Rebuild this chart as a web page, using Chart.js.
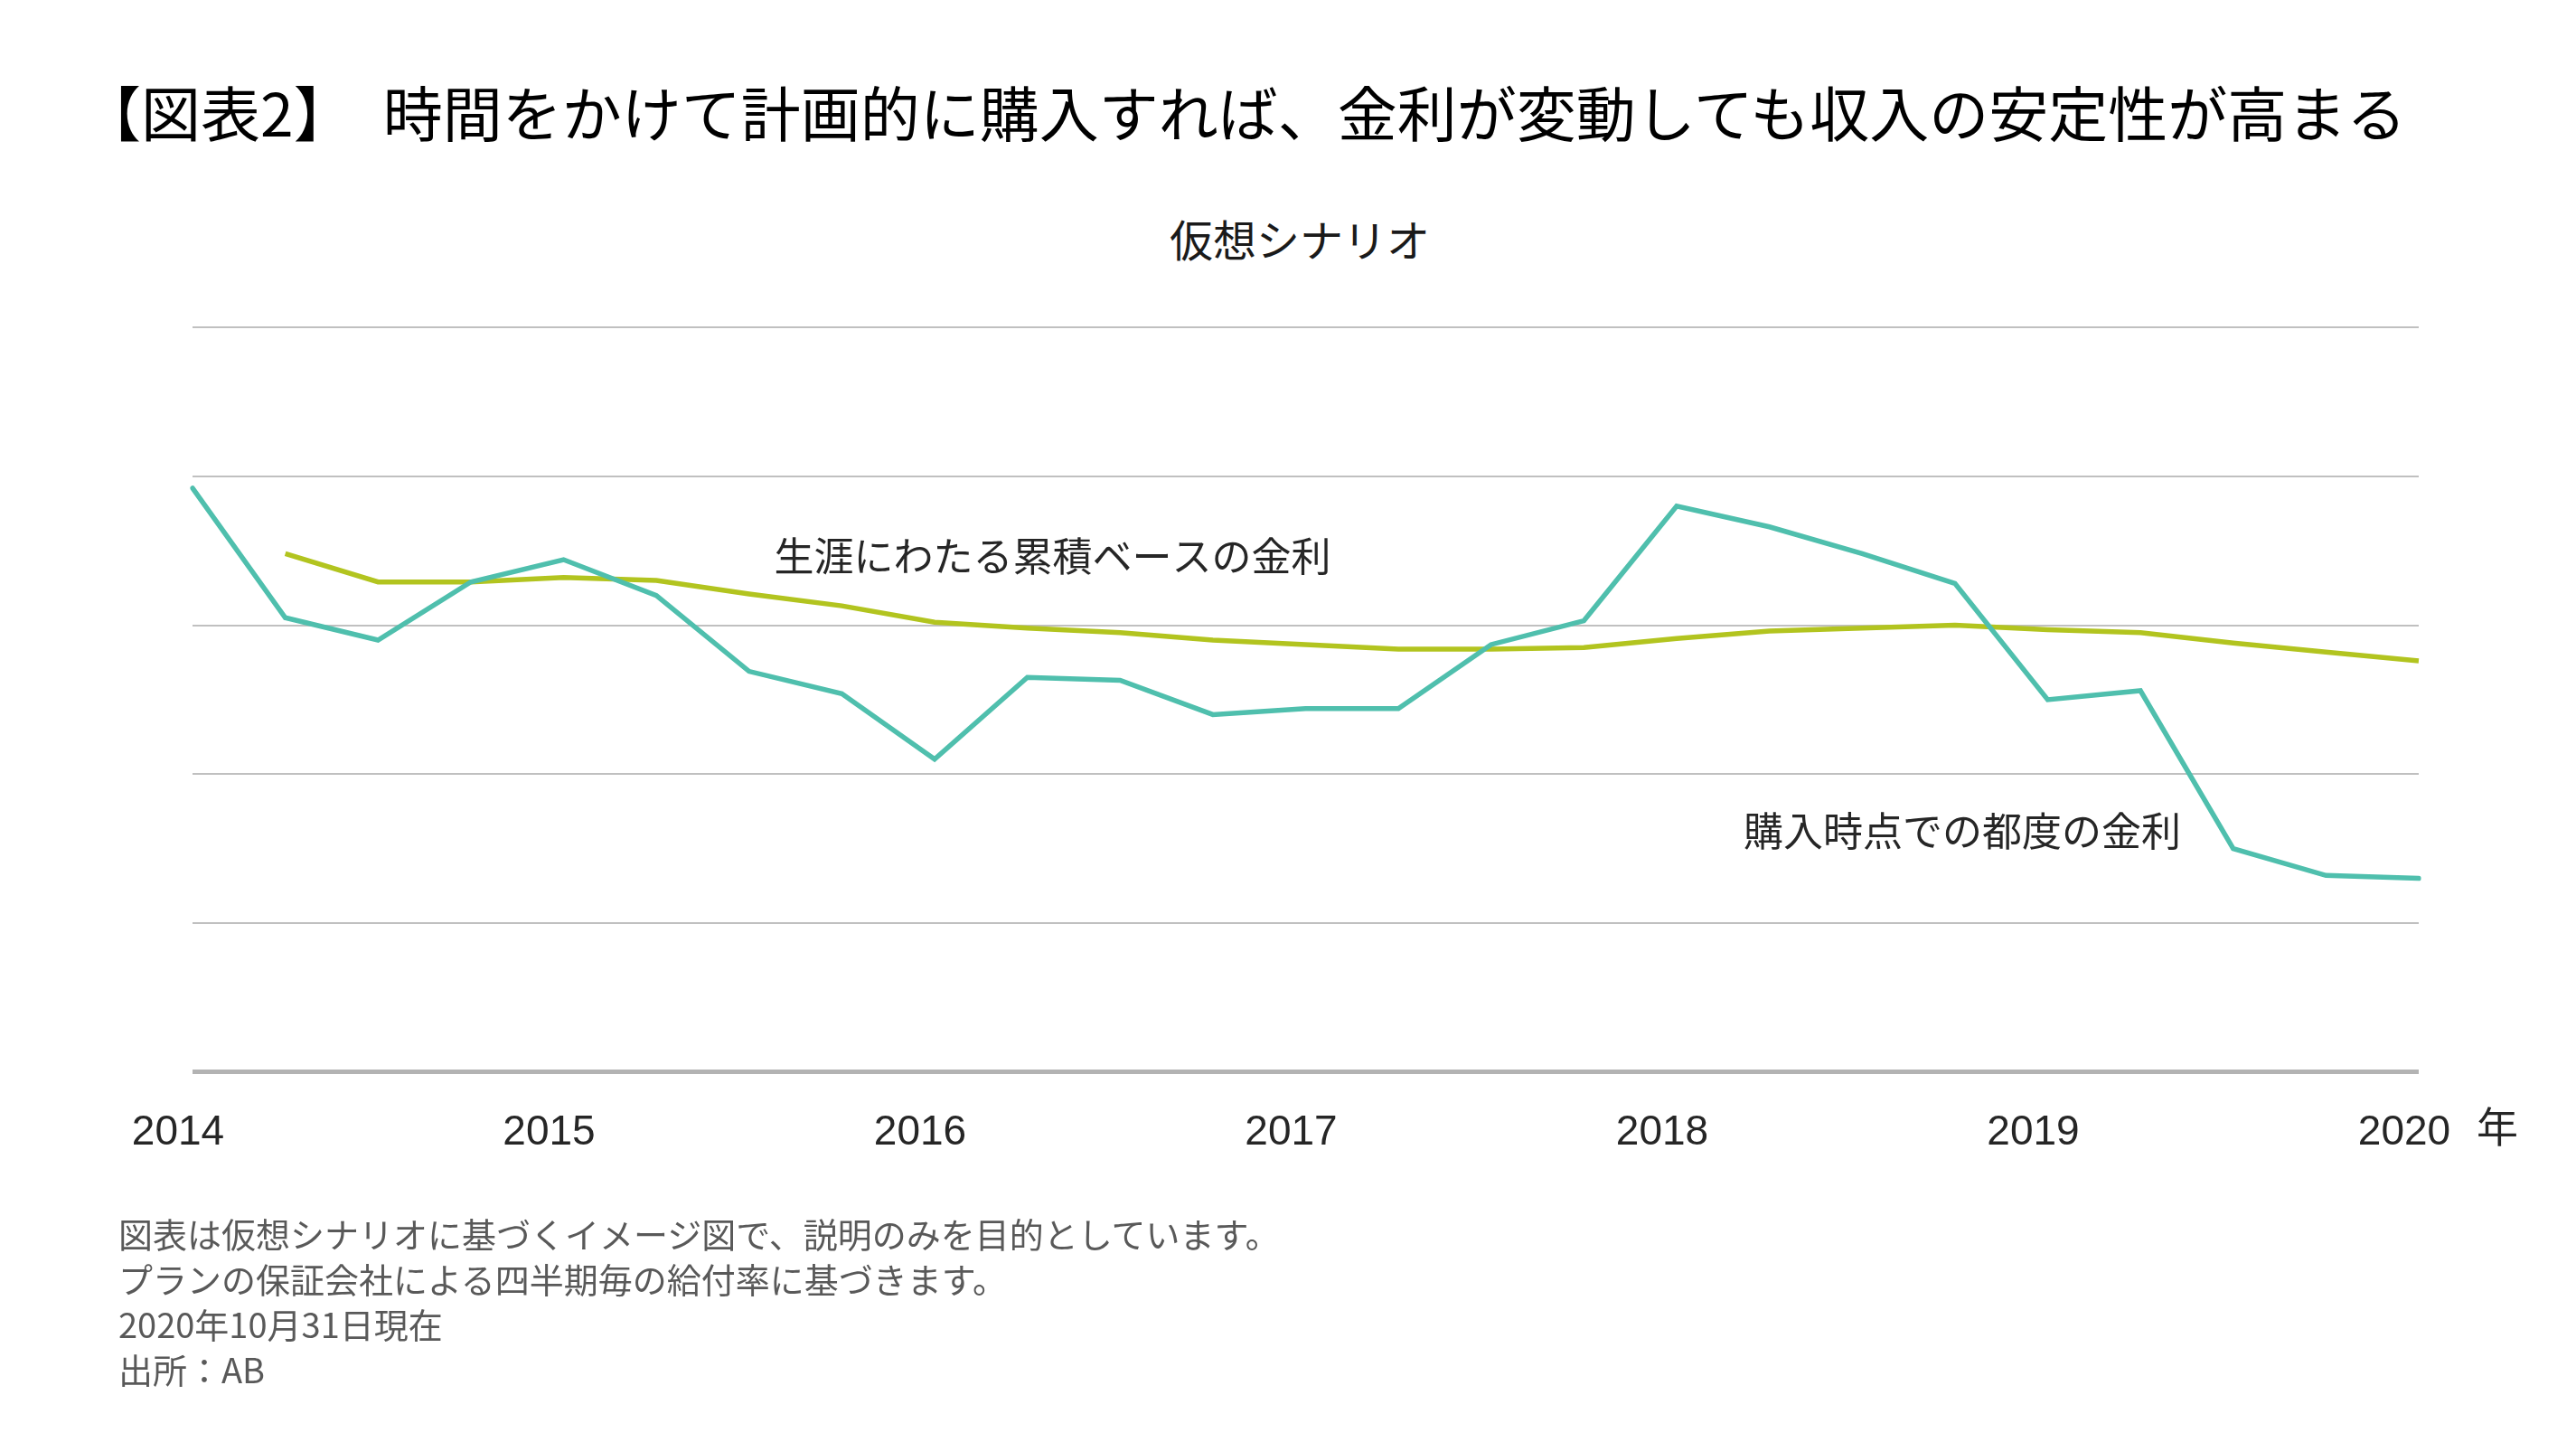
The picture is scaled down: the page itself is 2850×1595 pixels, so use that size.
<!DOCTYPE html>
<html lang="ja">
<head>
<meta charset="utf-8">
<script src="https://cdn.jsdelivr.net/npm/chart.js@4"></script>
<style>
  html, body { margin: 0; padding: 0; background: #fff; }
  body { width: 2850px; height: 1595px; position: relative; overflow: hidden;
         font-family: "Noto Sans CJK JP", "Liberation Sans", sans-serif; }
  #wrap { position: absolute; left: 0; top: 0; width: 2850px; height: 1595px; }
  .txt { position: absolute; white-space: pre; }
  #title { left: 90px; top: 84px; font-size: 66px; line-height: 76px; color: #000; }
  #sub { left: 0; width: 2876px; text-align: center; top: 235px; font-size: 48px; line-height: 56px; color: #1a1a1a; }
  #notes { left: 131px; top: 1339px; font-size: 38px; line-height: 50px; color: #595959; }
</style>
</head>
<body>
<div id="title" class="txt">【図表2】　時間をかけて計画的に購入すれば、金利が変動しても収入の安定性が高まる</div>
<div id="sub" class="txt">仮想シナリオ</div>
<div id="wrap"><canvas id="chart"></canvas></div>
<div id="notes" class="txt">図表は仮想シナリオに基づくイメージ図で、説明のみを目的としています。
プランの保証会社による四半期毎の給付率に基づきます。
2020年10月31日現在
出所：AB</div>
<script>
// quarterly points, 2014Q1 .. 2020Q1
const quarters = [
  "2014Q1","2014Q2","2014Q3","2014Q4",
  "2015Q1","2015Q2","2015Q3","2015Q4",
  "2016Q1","2016Q2","2016Q3","2016Q4",
  "2017Q1","2017Q2","2017Q3","2017Q4",
  "2018Q1","2018Q2","2018Q3","2018Q4",
  "2019Q1","2019Q2","2019Q3","2019Q4",
  "2020Q1"
];
const yearTicks = ["2014", "2015", "2016", "2017", "2018", "2019", "2020"];

// 購入時点での都度の金利
const spotRate = [3.92, 3.05, 2.90, 3.29, 3.44, 3.20, 2.69, 2.54, 2.10, 2.65, 2.63, 2.40, 2.44,
                  2.44, 2.87, 3.03, 3.80, 3.66, 3.48, 3.28, 2.50, 2.56, 1.50, 1.32, 1.30];
// 生涯にわたる累積ベースの金利
const cumulativeRate = [null, 3.48, 3.29, 3.29, 3.32, 3.30, 3.21, 3.13, 3.02, 2.98, 2.95, 2.90, 2.87,
                        2.84, 2.84, 2.85, 2.91, 2.96, 2.98, 3.00, 2.97, 2.95, 2.88, 2.82, 2.76];

const seriesNames = ["購入時点での都度の金利", "生涯にわたる累積ベースの金利"];

// text labels next to the lines, anchored on a data index / value
const lineLabels = [
  { text: seriesNames[1], index: 6.27, value: 3.46 },
  { text: seriesNames[0], index: 16.72, value: 1.62 }
];

const labelPlugin = {
  id: "lineLabels",
  afterDatasetsDraw(chart) {
    const c = chart.ctx;
    const xs = chart.scales.x, ys = chart.scales.y;
    c.save();
    c.font = '44px "Noto Sans CJK JP"';
    c.fillStyle = "#262626";
    c.textBaseline = "middle";
    c.textAlign = "left";
    lineLabels.forEach(function (l) {
      c.fillText(l.text, xs.getPixelForValue(l.index), ys.getPixelForValue(l.value));
    });
    // unit after the last year tick
    c.font = '46px "Liberation Sans", "Noto Sans CJK JP"';
    c.fillStyle = "#262626";
    c.textAlign = "center";
    c.fillText("年", chart.chartArea.right + 87, chart.chartArea.bottom + 65);
    c.restore();
  }
};

const data = {
  labels: quarters,
  datasets: [
    {
      label: seriesNames[0],
      data: spotRate,
      borderColor: "#4fbfad",
      borderWidth: 5.5,
      borderCapStyle: "round",
      pointRadius: 0,
      tension: 0,
      order: 1
    },
    {
      label: seriesNames[1],
      data: cumulativeRate,
      borderColor: "#b2c41f",
      borderWidth: 5.5,
      pointRadius: 0,
      tension: 0,
      order: 2
    }
  ]
};

const config = {
  type: "line",
  data: data,
  options: {
    responsive: true,
    maintainAspectRatio: false,
    animation: false,
    layout: { padding: { left: 213, right: 174, top: 362, bottom: 274 } },
    plugins: {
      legend: { display: false },
      tooltip: { enabled: false }
    },
    scales: {
      x: {
        offset: false,
        grid: { display: false, drawTicks: false },
        border: { display: false },
        ticks: {
          autoSkip: false,
          maxRotation: 0,
          padding: 40,
          labelOffset: -16,
          color: "#262626",
          font: { family: '"Liberation Sans", "Noto Sans CJK JP"', size: 46 },
          callback: function (val, index) {
            return index % 4 === 0 ? yearTicks[index / 4] : "";
          }
        }
      },
      y: {
        min: 0,
        max: 5,
        ticks: { display: false, stepSize: 1 },
        border: { display: false },
        grid: {
          drawTicks: false,
          color: function (ctx) { return ctx.tick && ctx.tick.value === 0 ? "#b3b3b3" : "#c0c0c0"; },
          lineWidth: function (ctx) { return ctx.tick && ctx.tick.value === 0 ? 5 : 2; }
        }
      }
    }
  },
  plugins: [labelPlugin]
};

const rateChart = new Chart(document.getElementById("chart"), config);
</script>
</body>
</html>
